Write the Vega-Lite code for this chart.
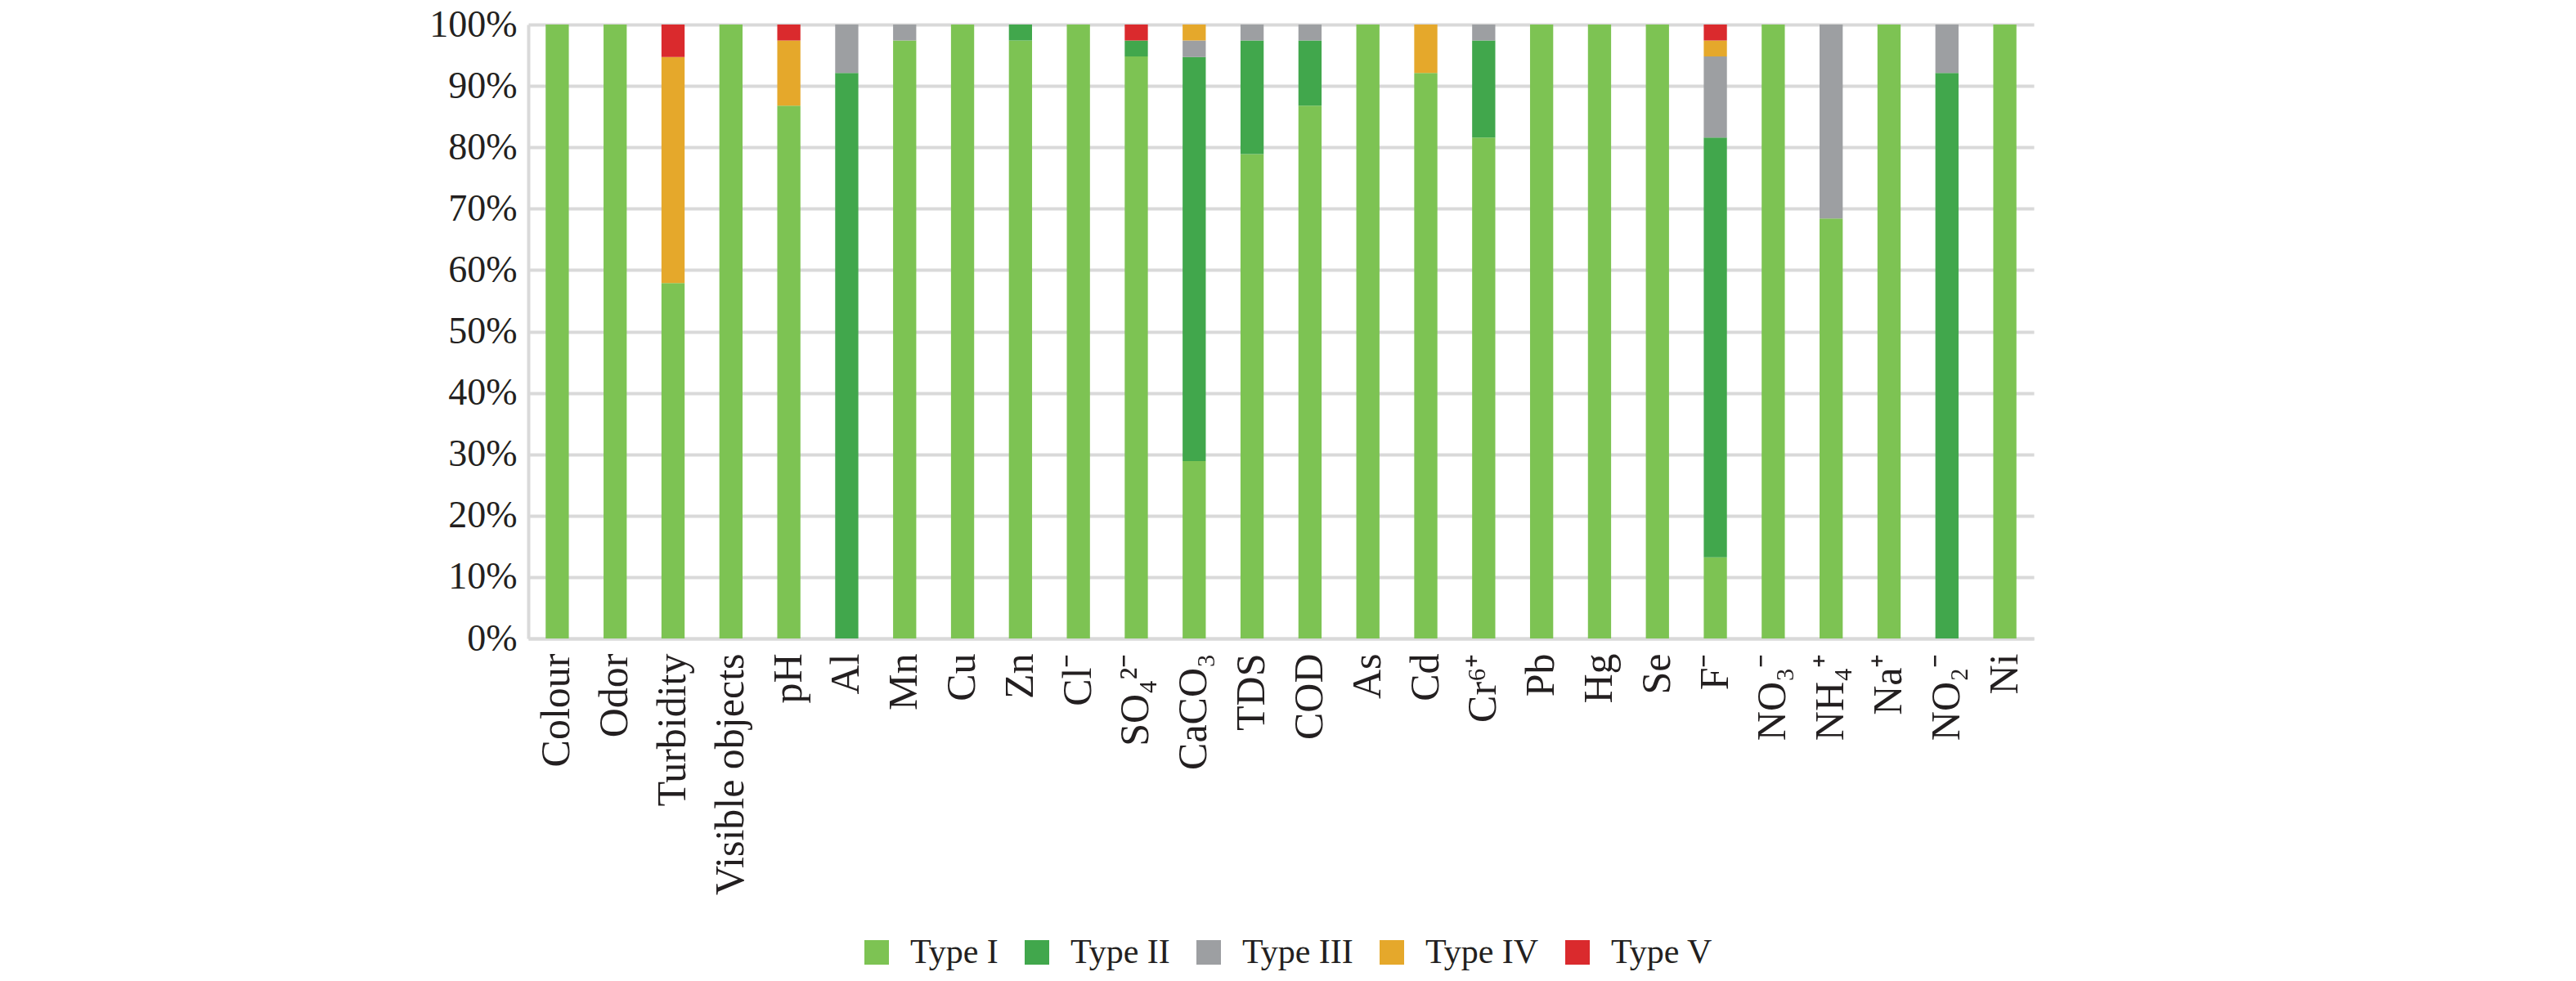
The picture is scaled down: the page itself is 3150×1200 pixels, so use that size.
{
  "$schema": "https://vega.github.io/schema/vega-lite/v6.json",
  "width": 1841,
  "height": 751,
  "autosize": {"type": "none"},
  "padding": {"left": 646, "top": 30, "right": 663, "bottom": 419},
  "background": "white",
  "config": {"view": {"stroke": null}, "font": "Liberation Serif"},
  "data": {
    "values": [
      {"param": "Colour", "type": "Type I", "pct": 100},
      {"param": "Odor", "type": "Type I", "pct": 100},
      {"param": "Turbidity", "type": "Type I", "pct": 57.9},
      {"param": "Turbidity", "type": "Type IV", "pct": 36.8},
      {"param": "Turbidity", "type": "Type V", "pct": 5.3},
      {"param": "Visible objects", "type": "Type I", "pct": 100},
      {"param": "pH", "type": "Type I", "pct": 86.8},
      {"param": "pH", "type": "Type IV", "pct": 10.6},
      {"param": "pH", "type": "Type V", "pct": 2.6},
      {"param": "Al", "type": "Type II", "pct": 92.1},
      {"param": "Al", "type": "Type III", "pct": 7.9},
      {"param": "Mn", "type": "Type I", "pct": 97.4},
      {"param": "Mn", "type": "Type III", "pct": 2.6},
      {"param": "Cu", "type": "Type I", "pct": 100},
      {"param": "Zn", "type": "Type I", "pct": 97.4},
      {"param": "Zn", "type": "Type II", "pct": 2.6},
      {"param": "Cl⁻", "type": "Type I", "pct": 100},
      {"param": "SO₄²⁻", "type": "Type I", "pct": 94.8},
      {"param": "SO₄²⁻", "type": "Type II", "pct": 2.6},
      {"param": "SO₄²⁻", "type": "Type V", "pct": 2.6},
      {"param": "CaCO₃", "type": "Type I", "pct": 28.9},
      {"param": "CaCO₃", "type": "Type II", "pct": 65.8},
      {"param": "CaCO₃", "type": "Type III", "pct": 2.7},
      {"param": "CaCO₃", "type": "Type IV", "pct": 2.6},
      {"param": "TDS", "type": "Type I", "pct": 78.9},
      {"param": "TDS", "type": "Type II", "pct": 18.5},
      {"param": "TDS", "type": "Type III", "pct": 2.6},
      {"param": "COD", "type": "Type I", "pct": 86.8},
      {"param": "COD", "type": "Type II", "pct": 10.6},
      {"param": "COD", "type": "Type III", "pct": 2.6},
      {"param": "As", "type": "Type I", "pct": 100},
      {"param": "Cd", "type": "Type I", "pct": 92.1},
      {"param": "Cd", "type": "Type IV", "pct": 7.9},
      {"param": "Cr⁶⁺", "type": "Type I", "pct": 81.6},
      {"param": "Cr⁶⁺", "type": "Type II", "pct": 15.8},
      {"param": "Cr⁶⁺", "type": "Type III", "pct": 2.6},
      {"param": "Pb", "type": "Type I", "pct": 100},
      {"param": "Hg", "type": "Type I", "pct": 100},
      {"param": "Se", "type": "Type I", "pct": 100},
      {"param": "F⁻", "type": "Type I", "pct": 13.2},
      {"param": "F⁻", "type": "Type II", "pct": 68.4},
      {"param": "F⁻", "type": "Type III", "pct": 13.2},
      {"param": "F⁻", "type": "Type IV", "pct": 2.6},
      {"param": "F⁻", "type": "Type V", "pct": 2.6},
      {"param": "NO₃⁻", "type": "Type I", "pct": 100},
      {"param": "NH₄⁺", "type": "Type I", "pct": 68.4},
      {"param": "NH₄⁺", "type": "Type III", "pct": 31.6},
      {"param": "Na⁺", "type": "Type I", "pct": 100},
      {"param": "NO₂⁻", "type": "Type II", "pct": 92.1},
      {"param": "NO₂⁻", "type": "Type III", "pct": 7.9},
      {"param": "Ni", "type": "Type I", "pct": 100}
    ]
  },
  "mark": {"type": "bar"},
  "encoding": {
    "x": {
      "field": "param",
      "type": "nominal",
      "sort": ["Colour", "Odor", "Turbidity", "Visible objects", "pH", "Al", "Mn", "Cu", "Zn", "Cl⁻", "SO₄²⁻", "CaCO₃", "TDS", "COD", "As", "Cd", "Cr⁶⁺", "Pb", "Hg", "Se", "F⁻", "NO₃⁻", "NH₄⁺", "Na⁺", "NO₂⁻", "Ni"],
      "scale": {"paddingInner": 0.6, "paddingOuter": 0.3},
      "axis": {
        "title": null,
        "labelAngle": -90,
        "labelFontSize": 50,
        "labelFont": "Liberation Serif",
        "labelColor": "#231f20",
        "labelPadding": 18,
        "labelLimit": 600,
        "ticks": false,
        "domainColor": "#d9d9d9",
        "domainWidth": 4
      }
    },
    "y": {
      "field": "pct",
      "type": "quantitative",
      "stack": "zero",
      "scale": {"domain": [0, 100], "nice": false},
      "axis": {
        "title": null,
        "values": [0, 10, 20, 30, 40, 50, 60, 70, 80, 90, 100],
        "labelExpr": "datum.value + '%'",
        "labelFontSize": 46,
        "labelFont": "Liberation Serif",
        "labelColor": "#231f20",
        "labelPadding": 14,
        "ticks": false,
        "gridColor": "#d9d9d9",
        "gridWidth": 4,
        "domainColor": "#d9d9d9",
        "domainWidth": 4
      }
    },
    "color": {
      "field": "type",
      "type": "nominal",
      "scale": {
        "domain": ["Type I", "Type II", "Type III", "Type IV", "Type V"],
        "range": ["#7dc353", "#41a74c", "#9d9fa2", "#e5a82b", "#da2a2d"]
      },
      "legend": {
        "title": null,
        "orient": "none",
        "direction": "horizontal",
        "legendX": 405,
        "legendY": 1114,
        "symbolType": "square",
        "symbolSize": 900,
        "symbolStrokeWidth": 0,
        "labelFontSize": 42,
        "labelFont": "Liberation Serif",
        "labelColor": "#231f20",
        "labelLimit": 400,
        "labelOffset": 20,
        "columnPadding": 26,
        "padding": 0
      }
    },
    "order": {"field": "type", "sort": "ascending"}
  }
}
